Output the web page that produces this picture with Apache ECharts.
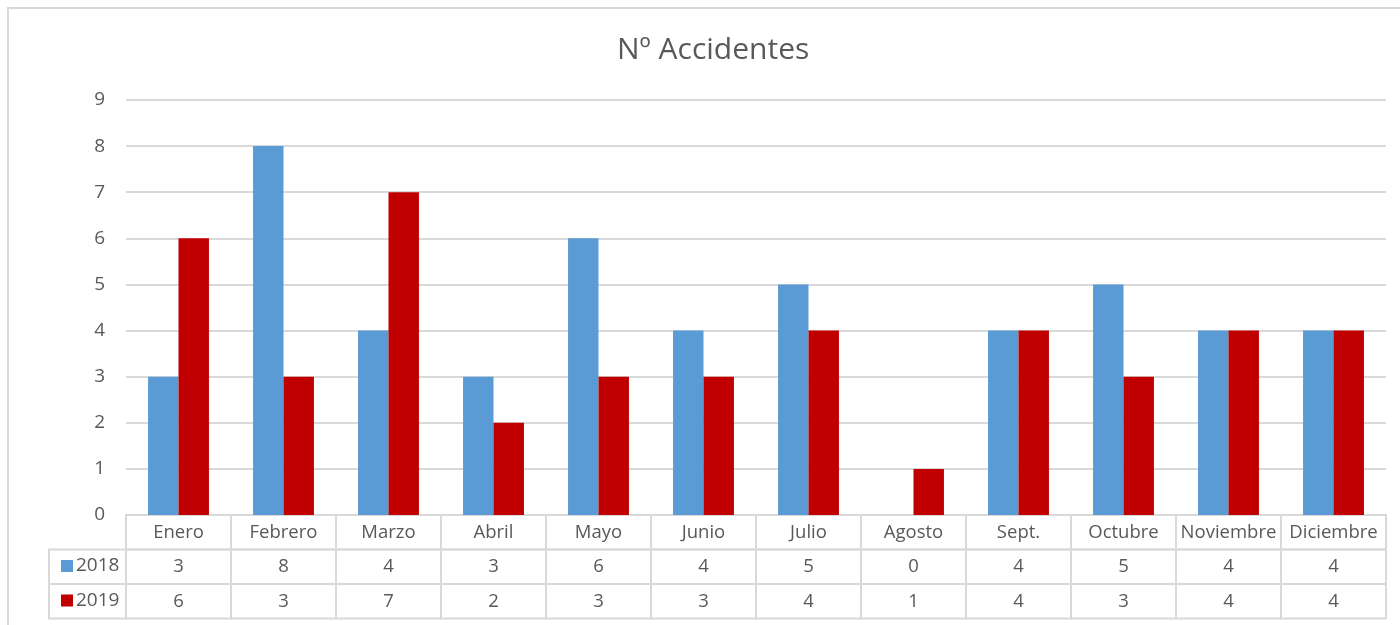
<!DOCTYPE html>
<html>
<head>
<meta charset="utf-8">
<script src="https://cdn.jsdelivr.net/npm/echarts@6/dist/echarts.min.js"></script>
<style>html,body{margin:0;padding:0;background:#fff}#c{width:1400px;height:625px}</style>
</head>
<body>
<div id="c"></div>
<script>
const months = ['Enero','Febrero','Marzo','Abril','Mayo','Junio','Julio','Agosto','Sept.','Octubre','Noviembre','Diciembre'];
const seriesNames = ['2018','2019'];
const values2018 = [3,8,4,3,6,4,5,0,4,5,4,4];
const values2019 = [6,3,7,2,3,3,4,1,4,3,4,4];
const yTicks = [0,1,2,3,4,5,6,7,8,9];

const FONT = 'Open Sans';
const TXT = '#595959';
const LINE = '#d9d9d9';
const COLORS = ['#5B9BD5','#C00000'];
const tableRows = ['cat','2018','2019'];

const tableData = [];
months.forEach((m,i)=>{
  tableData.push([i,'cat',m]);
  tableData.push([i,'2018',values2018[i]]);
  tableData.push([i,'2019',values2019[i]]);
});

const chart = echarts.init(document.getElementById('c'));
chart.setOption({
  animation:false,
  color: COLORS,
  textStyle:{fontFamily:FONT},
  title:{text:'Nº Accidentes',left:612,top:30,textStyle:{fontFamily:FONT,fontSize:30,fontWeight:'normal',color:TXT}},
  legend:{
    data:seriesNames, orient:'vertical', left:56, top:551, icon:'rect',
    itemWidth:12, itemHeight:12, itemGap:14.5, selectedMode:false,
    textStyle:{fontFamily:FONT,fontSize:19,color:TXT,lineHeight:20,padding:[0,0,0,-2]}
  },
  graphic:[{type:'rect',shape:{x:8,y:8,width:1400,height:1000},style:{fill:'none',stroke:LINE,lineWidth:2},silent:true}],
  grid:[
    {left:126,right:14,top:100,bottom:110},
    {left:126,right:14,top:515,height:103.5}
  ],
  xAxis:[
    {type:'category',data:months,gridIndex:0,axisLine:{show:false},axisTick:{show:false},axisLabel:{show:false}},
    {type:'category',data:months,gridIndex:1,axisLine:{show:false},axisTick:{show:false},axisLabel:{show:false}}
  ],
  yAxis:[
    {type:'value',gridIndex:0,min:yTicks[0],max:yTicks[yTicks.length-1],interval:1,
     axisLine:{show:false},axisTick:{show:false},
     axisLabel:{color:TXT,fontSize:19,fontFamily:FONT,margin:21},
     splitLine:{lineStyle:{color:LINE,width:2}}},
    {type:'category',gridIndex:1,data:tableRows,inverse:true,show:false}
  ],
  series:[
    {name:'2018',type:'bar',data:values2018,barGap:'0%',barCategoryGap:'42%',xAxisIndex:0,yAxisIndex:0},
    {name:'2019',type:'bar',data:values2019,barGap:'0%',barCategoryGap:'42%',xAxisIndex:0,yAxisIndex:0},
    {type:'custom',xAxisIndex:1,yAxisIndex:1,clip:false,silent:true,data:tableData,
     renderItem:function(params,api){
       const xi = api.value(0);
       const row = api.value(1);
       const c = api.coord([xi,row]);
       const s = api.size([1,1]);
       const label = tableData[params.dataIndex][2];
       const rowName = tableData[params.dataIndex][1];
       const children = [
         {type:'rect',shape:{x:c[0]-s[0]/2,y:c[1]-s[1]/2,width:s[0],height:s[1]},style:{fill:'none',stroke:LINE,lineWidth:2}},
         {type:'text',x:c[0],y:c[1],style:{text:String(label),fill:TXT,font:'18.5px "'+FONT+'"',align:'center',verticalAlign:'middle'}}
       ];
       if(xi===0 && rowName!=='cat'){
         children.push({type:'rect',shape:{x:c[0]-s[0]/2-77,y:c[1]-s[1]/2,width:77,height:s[1]},style:{fill:'none',stroke:LINE,lineWidth:2}});
       }
       return {type:'group',children:children};
     }}
  ]
});
</script>
</body>
</html>
